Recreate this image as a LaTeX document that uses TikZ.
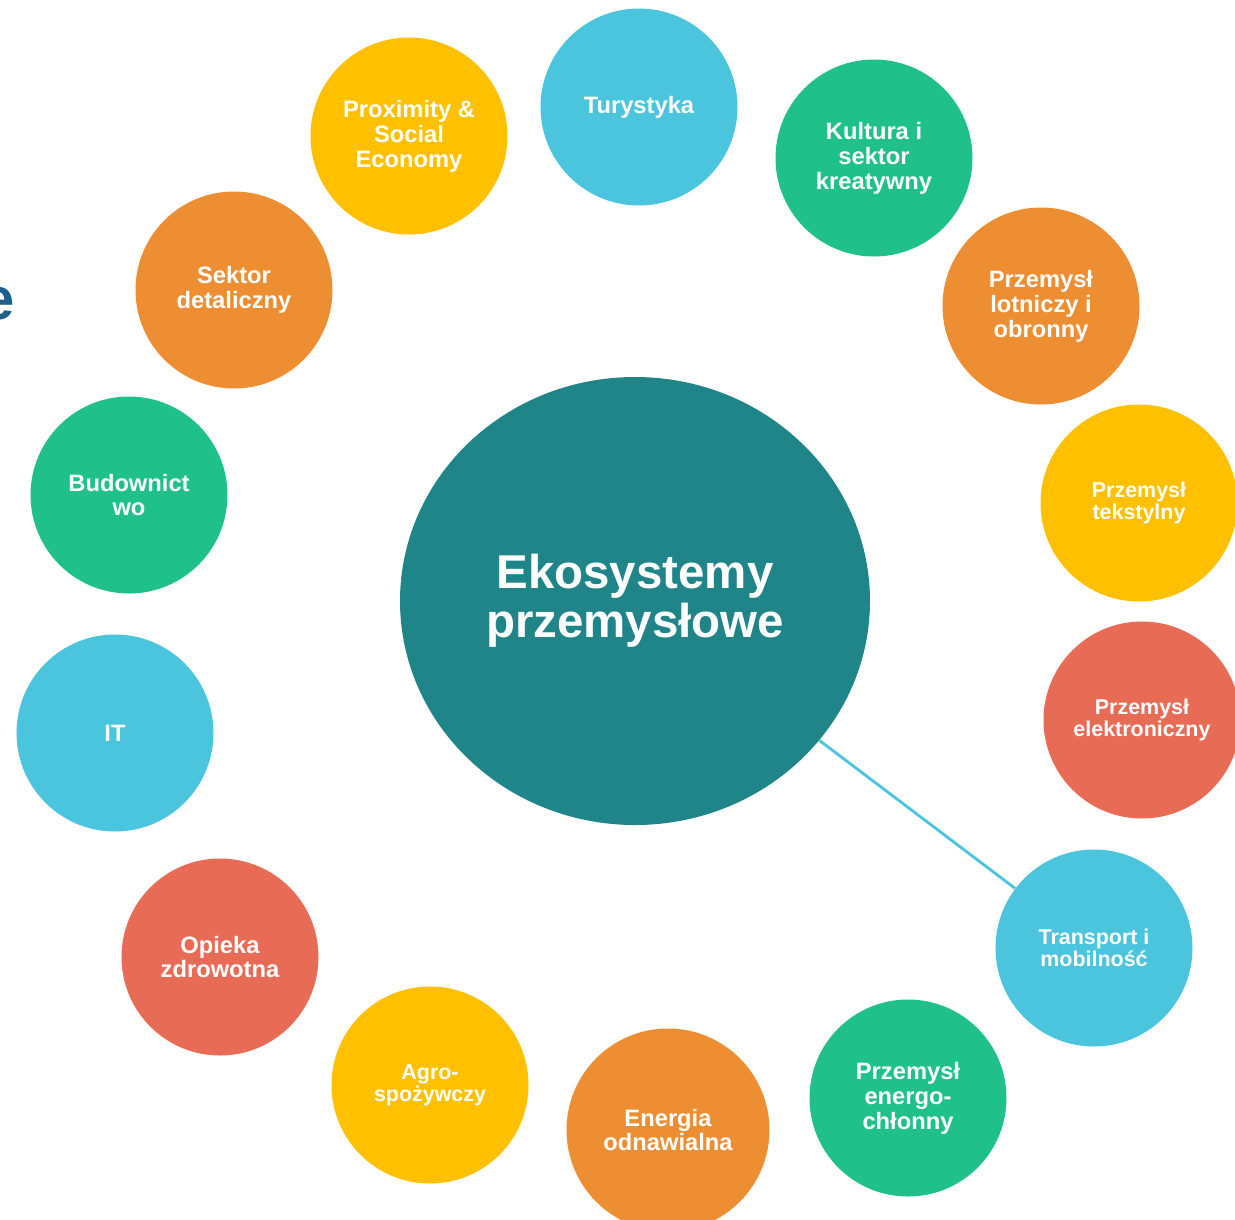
\documentclass[tikz,border=0pt]{standalone}
\usepackage{fontspec}
\setsansfont{Liberation Sans}
\usepackage{tikz}
\usetikzlibrary{shapes.geometric}
\definecolor{core}{HTML}{1F8589}
\definecolor{sky}{HTML}{4BC4DE}
\definecolor{leaf}{HTML}{20C08A}
\definecolor{amber}{HTML}{ED8E33}
\definecolor{sun}{HTML}{FFC000}
\definecolor{coral}{HTML}{E86C55}
\definecolor{navy}{HTML}{1F5F8B}
\tikzset{
  eco/.style={circle, minimum size=3.94cm, inner sep=0pt, text=white, align=center,
    font=\sffamily\bfseries\fontsize{13.5}{14.2}\selectfont},
  ecos/.style={eco, font=\sffamily\bfseries\fontsize{12.2}{12.6}\selectfont},
  hub/.style={ellipse, fill=core, minimum width=9.4cm, minimum height=8.96cm, inner sep=0pt,
    text=white, align=center, font=\sffamily\bfseries\fontsize{27}{28}\selectfont},
  link/.style={line width=1.6pt, color=sky},
}

\begin{document}
\begin{tikzpicture}[x=0.2mm, y=-0.2mm]
  \useasboundingbox (0,0) rectangle (1235,1219);
  \node[anchor=east, text=navy, inner sep=0pt, font=\sffamily\bfseries\fontsize{34}{36}\selectfont] (cut) at (15,304) {e};
  \node[hub] (hub) at (635,601) {Ekosystemy\\przemysłowe};
  \node[eco, fill=sky] (tur) at (639,107) {Turystyka};
  \node[eco, fill=sun] (prox) at (409,136) {Proximity \&\\Social\\Economy};
  \node[eco, fill=leaf] (kult) at (874,158) {Kultura i\\sektor\\kreatywny};
  \node[eco, fill=amber] (det) at (234,290) {Sektor\\detaliczny};
  \node[eco, fill=amber] (lot) at (1041,306) {Przemysł\\lotniczy i\\obronny};
  \node[eco, fill=leaf] (bud) at (129,495) {Budownict\\wo};
  \node[ecos, fill=sun] (tekst) at (1139,503) {Przemysł\\tekstylny};
  \node[eco, fill=sky] (it) at (115,733) {IT};
  \node[ecos, fill=coral] (elek) at (1142,720) {Przemysł\\elektroniczny};
  \node[eco, fill=coral] (opieka) at (220,957) {Opieka\\zdrowotna};
  \node[ecos, fill=sky] (trans) at (1094,948) {Transport i\\mobilność};
  \node[ecos, fill=sun] (agro) at (430,1085) {Agro-\\spożywczy};
  \node[eco, fill=amber, minimum size=4.06cm] (oze) at (668,1130) {Energia\\odnawialna};
  \node[eco, fill=leaf] (chlon) at (908,1098) {Przemysł\\energo-\\chłonny};
  \draw[link] (hub) -- (trans);
\end{tikzpicture}
\end{document}
